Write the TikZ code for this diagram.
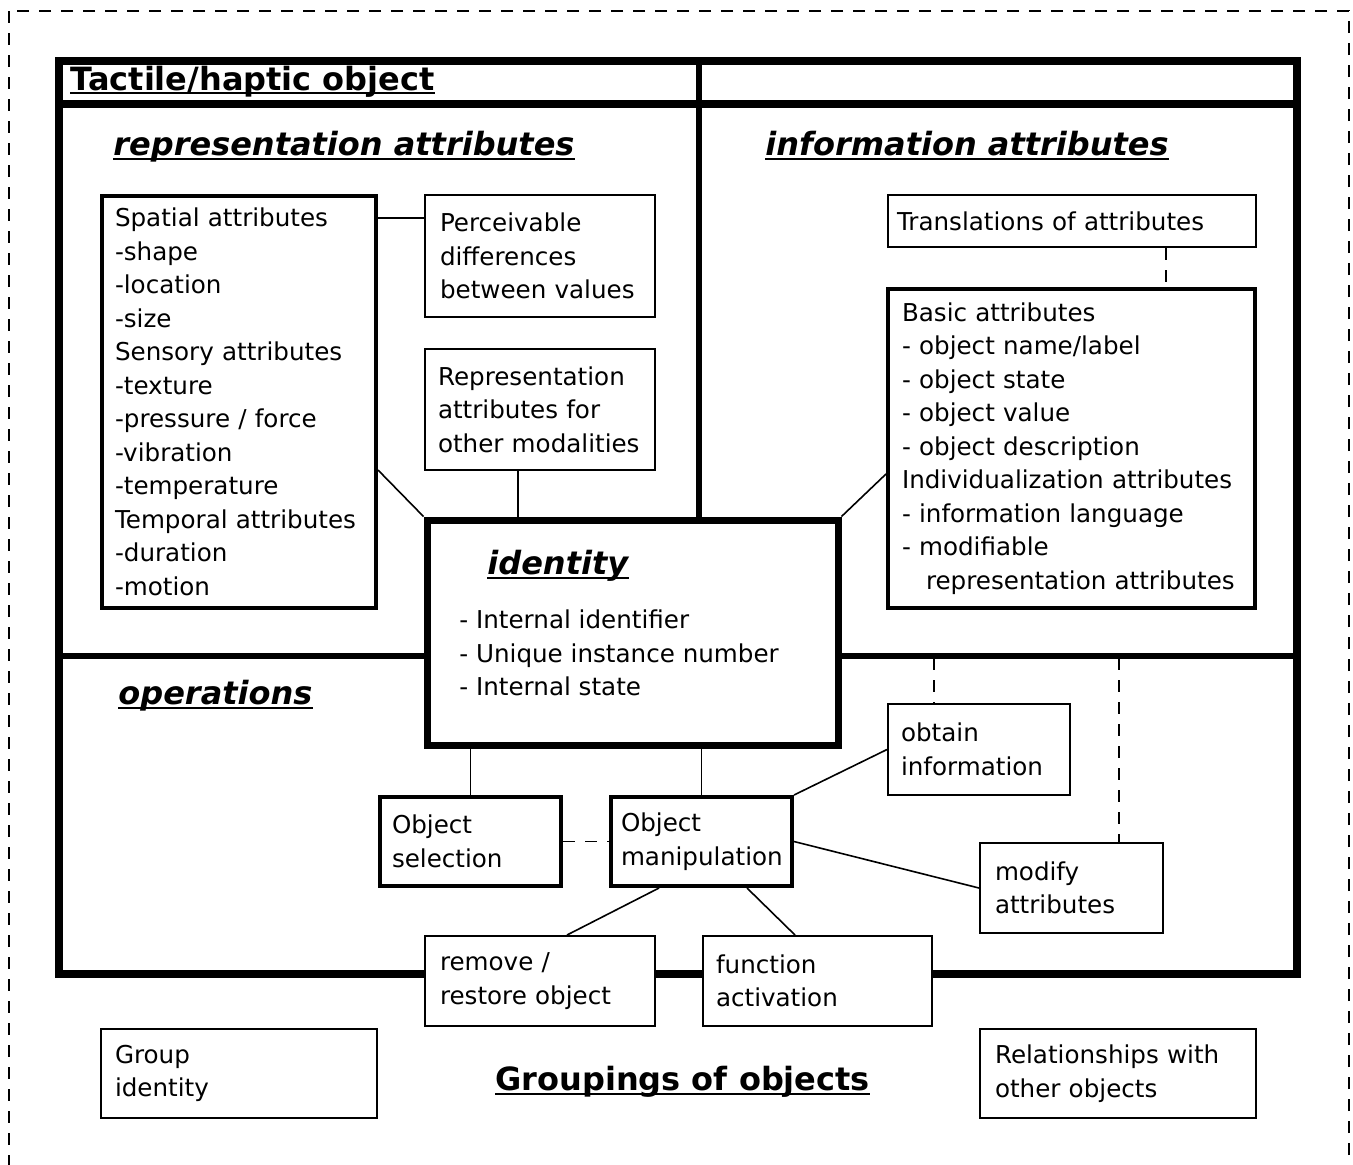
\documentclass[tikz,border=0pt]{standalone}
\usepackage{fontspec}
\setmainfont{DejaVu Sans}
\begin{document}
\begin{tikzpicture}[x=0.5pt,y=-0.5pt,
  every node/.style={font=\fontsize{12.3pt}{16.75pt}\selectfont},
  bx/.style={draw, line width=1pt, fill=white, align=left, inner ysep=0pt},
  tbx/.style={bx, line width=2pt},
  conn/.style={line width=0.8pt},
  dconn/.style={line width=0.8pt, dash pattern=on 6pt off 5pt},
  frameline/.style={line width=4pt},
  ttl/.style={font=\fontsize{16pt}{19pt}\selectfont\bfseries, inner sep=0pt, anchor=base west},
  ttli/.style={ttl, font=\fontsize{16pt}{19pt}\selectfont\bfseries\itshape},
  ul/.style={line width=1.2pt},
  itm/.style={inner sep=0pt, anchor=base west}
]
\useasboundingbox (0,0) rectangle (1353,1164);
\clip (0,0) rectangle (1353,1164);

% outer dashed border
\draw[line width=1pt, dash pattern=on 6pt off 5pt] (9,11) rectangle (1349,1200);

% main frame
\node[draw, line width=4pt, minimum width=619pt, minimum height=456.5pt, inner sep=0pt] (objframe) at (678,517.5) {};
\draw[frameline] (objframe.west |- 0,104) -- (objframe.east |- 0,104);

% identity box
\node[draw, fill=white, line width=3.5pt, minimum width=205.5pt, minimum height=112.5pt, inner sep=0pt] (identity) at (632.5,632.5) {};

\draw[line width=3pt] (objframe.north -| 699,0) -- (identity.north -| 699,0);
\draw[line width=3pt] (objframe.west |- 0,656) -- (identity.west |- 0,656);
\draw[line width=3pt] (identity.east |- 0,656) -- (objframe.east |- 0,656);

% titles
\node[ttl, fill=white, inner ysep=0.5pt] (ttitle) at (70,90) {Tactile/haptic object};
\draw[ul] ([yshift=-1.6pt]ttitle.base west) -- ([yshift=-1.6pt]ttitle.base east);
\node[ttli] (reptitle) at (113,155) {representation attributes};
\draw[ul] ([yshift=-2pt]reptitle.base west) -- ([yshift=-2pt]reptitle.base east);
\node[ttli] (inftitle) at (765,155) {information attributes};
\draw[ul] ([yshift=-2pt]inftitle.base west) -- ([yshift=-2pt]inftitle.base east);
\node[ttli] (optitle) at (118,704) {operations};
\draw[ul] ([yshift=-2pt]optitle.base west) -- ([yshift=-2pt]optitle.base east);
\node[ttli] (idtitle) at (487,574) {identity};
\draw[ul] ([yshift=-2pt]idtitle.base west) -- ([yshift=-2pt]idtitle.base east);
\node[ttl] (grtitle) at (495,1090) {Groupings of objects};
\draw[ul] ([yshift=-2pt]grtitle.base west) -- ([yshift=-2pt]grtitle.base east);

% identity items
\node[itm] (id1) at (459,628) {- Internal identifier};
\node[itm] (id2) at (459,662) {- Unique instance number};
\node[itm] (id3) at (459,695) {- Internal state};

% representation attribute boxes
\node[tbx, inner xsep=6.5pt, text width=124pt, minimum height=206pt] (spatial) at (239,402)
 {Spatial attributes\\-shape\\-location\\-size\\Sensory attributes\\-texture\\-pressure / force\\-vibration\\-temperature\\Temporal attributes\\-duration\\-motion};
\node[bx, inner xsep=7.5pt, text width=100pt, minimum height=61pt] (perceive) at (540,256)
 {Perceivable\\differences\\between values};
\node[bx, inner xsep=6.5pt, text width=102pt, minimum height=60.5pt] (reprother) at (540,409.5)
 {Representation\\attributes for\\other modalities};

% information attribute boxes
\node[bx, inner xsep=4.5pt, text width=175pt, minimum height=26pt] (transl) at (1072,221)
 {Translations of attributes};
\node[tbx, inner xsep=7pt, text width=169.5pt, minimum height=159.5pt] (basic) at (1071.5,448.5)
 {Basic attributes\\- object name/label\\- object state\\- object value\\- object description\\Individualization attributes\\- information language\\- modifiable\\\hspace*{12pt}representation attributes};

% operations boxes
\node[tbx, inner xsep=6pt, text width=78.5pt, minimum height=44.5pt] (opsel) at (470.5,841.5)
 {Object\\selection};
\node[tbx, inner xsep=5pt, text width=80.5pt, minimum height=44.5pt] (opman) at (701.5,841.5)
 {Object\\manipulation};
\node[bx, inner xsep=6.5pt, text width=78pt, minimum height=45.5pt] (obtain) at (979,749.5)
 {obtain\\information};
\node[bx, inner xsep=7.5pt, text width=76.5pt, minimum height=45pt] (modify) at (1071.5,888)
 {modify\\attributes};
\node[bx, inner xsep=7.5pt, text width=100pt, minimum height=45pt] (remove) at (540,981)
 {remove /\\restore object};
\node[bx, inner xsep=6.5pt, text width=101.5pt, minimum height=45pt] (funcact) at (817.5,981)
 {function\\activation};

% grouping boxes
\node[bx, inner xsep=7pt, text width=124pt, minimum height=44.5pt] (group) at (239,1073.5)
 {Group\\identity};
\node[bx, inner xsep=7.5pt, text width=123pt, minimum height=44.5pt] (relat) at (1118,1073.5)
 {Relationships with\\other objects};

% connectors
\draw[conn] (spatial.east |- 0,218) -- (perceive.west |- 0,218);
\draw[conn] (spatial.east |- 0,470) -- (identity.north west);
\draw[conn] (reprother.south -| 518,0) -- (identity.north -| 518,0);
\draw[conn] (basic.west |- 0,474) -- (identity.north east);
\draw[dconn] (transl.south -| 1166,0) -- (basic.north -| 1166,0);
\draw[conn] (identity.south -| opsel.north) -- (opsel.north);
\draw[conn] (identity.south -| opman.north) -- (opman.north);
\draw[dconn] (opsel.east) -- (opman.west);
\draw[conn] (opman.north east) -- (obtain.west);
\draw[conn] (opman.east) -- (modify.west);
\draw[conn] (opman.south -| 659,0) -- (remove.north -| 567,0);
\draw[conn] (opman.south -| 747,0) -- (funcact.north -| 795,0);
\draw[dconn] (934,658) -- (obtain.north -| 934,0);
\draw[dconn] (1119,658) -- (modify.north -| 1119,0);
\end{tikzpicture}
\end{document}
